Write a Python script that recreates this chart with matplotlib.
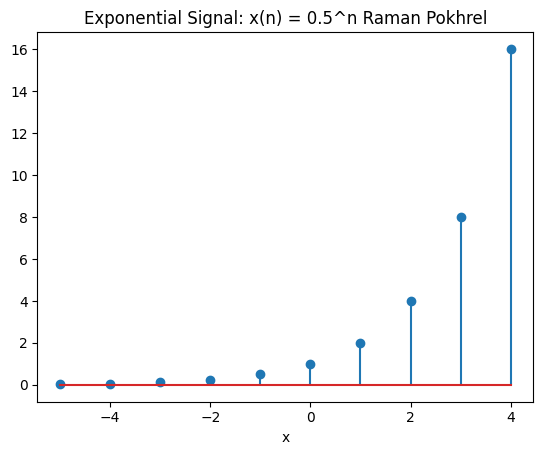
import matplotlib
matplotlib.use("Agg")
import matplotlib.pyplot as plt

# signal samples
n = [-5, -4, -3, -2, -1, 0, 1, 2, 3, 4]
x_n = [0.03125, 0.0625, 0.125, 0.25, 0.5, 1, 2, 4, 8, 16]

fig = plt.figure(figsize=(5.43, 4.55), dpi=100)
ax = fig.add_subplot(111)
fig.subplots_adjust(left=0.069, right=0.982, top=0.929, bottom=0.117)

ax.stem(n, x_n, basefmt='C3-')

ax.set_title('Exponential Signal: x(n) = 0.5^n Raman Pokhrel')
ax.set_xlabel('x')

fig.savefig('out.png', dpi=100)
